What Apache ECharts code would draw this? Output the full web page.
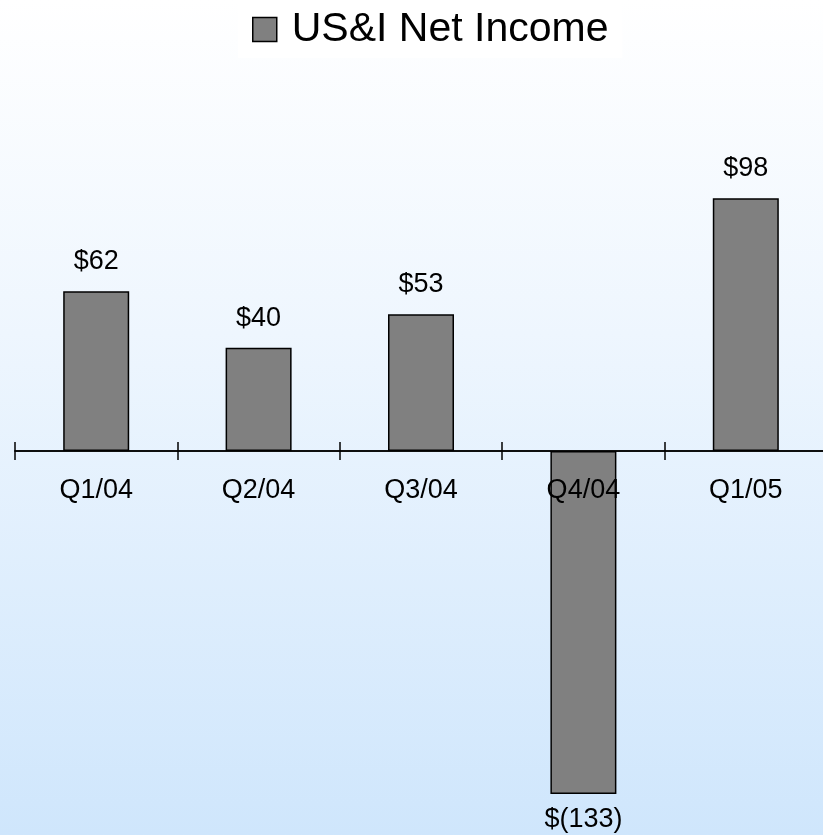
<!DOCTYPE html>
<html>
<head>
<meta charset="utf-8">
<script src="https://cdn.jsdelivr.net/npm/echarts@6/dist/echarts.min.js"></script>
<style>
  html, body { margin: 0; padding: 0; }
  #chart {
    width: 823px;
    height: 835px;
    background: linear-gradient(to bottom, #ffffff 0%, #eef6fe 40%, #cfe6fc 100%);
  }
</style>
</head>
<body>
<div id="chart"></div>
<script>
const quarters = ['Q1/04', 'Q2/04', 'Q3/04', 'Q4/04', 'Q1/05'];
const netIncome = [62, 40, 53, -133, 98];
const seriesName = 'US&I Net Income';

const chart = echarts.init(document.getElementById('chart'));

// format like the slide: $62, $(133)
const fmtMoney = (v) => (v < 0 ? '$(' + (-v) + ')' : '$' + v);

const FONT = '"Liberation Sans", Arial, sans-serif';
const axisLineStyle = { color: '#000', width: 1.5 };

const option = {
  animation: false,
  textStyle: { fontFamily: FONT },
  legend: {
    top: 0,
    left: 238,
    data: [seriesName],
    backgroundColor: '#ffffff',
    padding: [9, 14, 8, 14],
    itemWidth: 24,
    itemHeight: 24,
    icon: 'rect',
    itemStyle: { color: '#808080', borderColor: '#000', borderWidth: 1.5 },
    textStyle: { fontSize: 41, color: '#000', fontFamily: FONT, padding: [0, 0, 0, 10] }
  },
  grid: [
    // bars
    { left: 15, width: 812, top: 90, height: 722, containLabel: false, outerBoundsMode: 'none' },
    // upper half only, its bottom edge is the zero line -> carries category labels
    { left: 15, width: 812, top: 90, height: 361, containLabel: false, outerBoundsMode: 'none' }
  ],
  xAxis: [
    {
      type: 'category',
      gridIndex: 0,
      data: quarters,
      axisLine: { onZero: true, lineStyle: axisLineStyle },
      axisTick: { show: true, inside: true, length: 9, lineStyle: axisLineStyle },
      axisLabel: { show: false }
    },
    {
      type: 'category',
      gridIndex: 1,
      z: 5,
      data: quarters,
      position: 'bottom',
      axisLine: { show: true, onZero: false, lineStyle: axisLineStyle },
      axisTick: { show: true, inside: false, length: 9, lineStyle: axisLineStyle },
      axisLabel: { fontSize: 27, color: '#000', margin: 26, fontFamily: FONT }
    }
  ],
  yAxis: [
    { type: 'value', gridIndex: 0, min: -140, max: 140, show: false, splitLine: { show: false } },
    { type: 'value', gridIndex: 1, min: 0, max: 140, show: false, splitLine: { show: false } }
  ],
  series: [
    {
      name: seriesName,
      type: 'bar',
      xAxisIndex: 0,
      yAxisIndex: 0,
      barWidth: 66,
      data: netIncome.map((v) => ({
        value: v,
        label: { position: v < 0 ? 'bottom' : 'top', distance: v < 0 ? 12 : 16 }
      })),
      itemStyle: { color: '#808080', borderColor: '#000', borderWidth: 1.5 },
      label: {
        show: true,
        fontSize: 27,
        color: '#000',
        fontFamily: FONT,
        formatter: (p) => fmtMoney(p.value)
      }
    }
  ]
};

chart.setOption(option);
</script>
</body>
</html>
